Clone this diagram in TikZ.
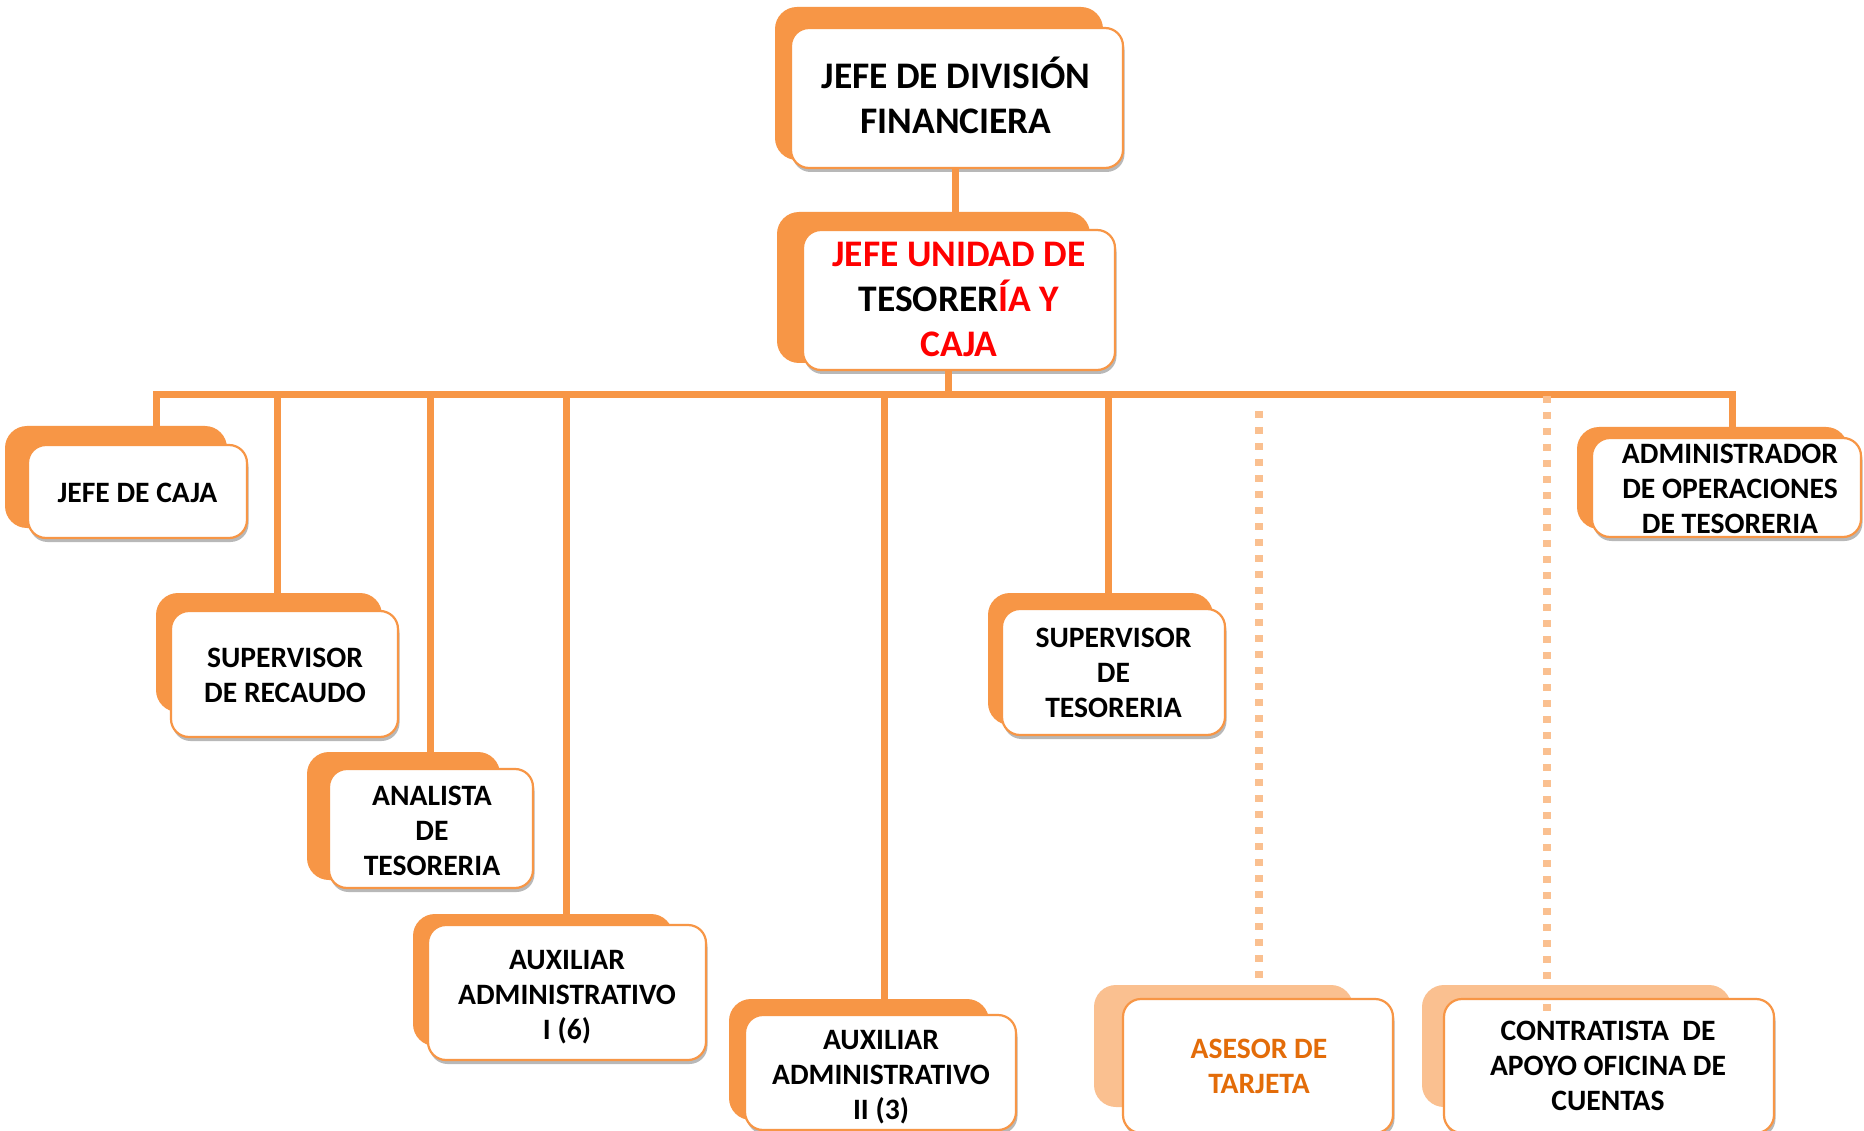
\documentclass[tikz,border=0pt]{standalone}
\usepackage{fontspec}
\setmainfont{Carlito}
\usetikzlibrary{shadows,fit}
\definecolor{org}{HTML}{F79646}
\definecolor{lorg}{HTML}{FAC090}
\definecolor{dorg}{HTML}{E36C09}
\definecolor{redt}{HTML}{FF0000}
\tikzset{
  backbox/.style={fill=org, draw=none, rounded corners=22pt, inner sep=0pt},
  lbackbox/.style={fill=lorg, draw=none, rounded corners=22pt, inner sep=0pt},
  frontbox/.style={fill=white, draw=org, line width=2.2pt, rounded corners=18pt, inner sep=0pt,
    drop shadow={shadow xshift=1.5pt, shadow yshift=-4pt, opacity=0.28, fill=black}},
  conn/.style={draw=org, line width=7pt, line join=miter},
  dotconn/.style={draw=lorg, line width=8pt, dash pattern=on 7pt off 9pt},
  bigtxt/.style={font=\fontsize{37.5}{45}\selectfont\bfseries, align=center, inner sep=0pt},
  smalltxt/.style={font=\fontsize{29.6}{35}\selectfont\bfseries, align=center, inner sep=0pt},
}
\begin{document}
\begin{tikzpicture}[x=1pt,y=-1pt]
\useasboundingbox (0,0) rectangle (1864,1131);
\fill[white] (0,0) rectangle (1864,1131);

% back boxes
\node[backbox, fit={(775,7) (1103,160)}] (divB) {};
\node[backbox, fit={(777,212) (1090,363)}] (uniB) {};
\node[backbox, fit={(5,426) (227,528)}] (cajaB) {};
\node[backbox, fit={(156,593) (382,712)}] (recB) {};
\node[backbox, fit={(307,752) (500,880)}] (anaB) {};
\node[backbox, fit={(413,914) (673,1046)}] (auxaB) {};
\node[backbox, fit={(729,999) (989,1120)}] (auxbB) {};
\node[backbox, fit={(988,593) (1213,725)}] (supB) {};
\node[lbackbox, fit={(1094,985) (1353,1107)}] (aseB) {};
\node[lbackbox, fit={(1422,985) (1731,1107)}] (conB) {};
\node[backbox, fit={(1577,427) (1848,529)}] (admB) {};

% coordinates for connectors
\coordinate (c1) at (955.5,100);
\coordinate (busL) at (156,395);
\coordinate (busR) at (1732,395);
\coordinate (d0) at (948,395);
\coordinate (d2) at (277,395);
\coordinate (d3) at (430,395);
\coordinate (d4) at (566,395);
\coordinate (d5) at (884,395);
\coordinate (d6) at (1108,395);
\coordinate (p1) at (1259,411);
\coordinate (p1e) at (1259,978);
\coordinate (p2) at (1547,396);
\coordinate (p2e) at (1547,1011);

% front boxes
\node[frontbox, fit={(791,28) (1123,168)}] (div) {};
\node[frontbox, fit={(803,230) (1115,370)}] (uni) {};
\node[frontbox, fit={(28,445) (247,538)}] (caja) {};
\node[frontbox, fit={(171,611) (398,737)}] (rec) {};
\node[frontbox, fit={(329,769) (533,888)}] (ana) {};
\node[frontbox, fit={(428,925) (706,1060)}] (auxa) {};
\node[frontbox, fit={(745,1015) (1016,1130)}] (auxb) {};
\node[frontbox, fit={(1002,609) (1225,735)}] (sup) {};
\node[frontbox, fit={(1123,999) (1393,1133)}] (ase) {};
\node[frontbox, fit={(1444,999) (1774,1133)}] (con) {};
\node[frontbox, fit={(1592,438) (1861,537)}] (adm) {};

% connectors
\draw[conn] (c1 |- div.south) -- (c1 |- uniB.north);
\draw[conn] (d0) -- (d0 |- uni.south);
\draw[conn] (busL |- cajaB.north) -- (busL) -- (busR) -- (busR |- admB.north);
\draw[conn] (d2) -- (d2 |- recB.north);
\draw[conn] (d3) -- (d3 |- anaB.north);
\draw[conn] (d4) -- (d4 |- auxaB.north);
\draw[conn] (d5) -- (d5 |- auxbB.north);
\draw[conn] (d6) -- (d6 |- supB.north);
\draw[dotconn] (p1) -- (p1e);
\draw[dotconn] (p2) -- (p2e);

% texts
\node[bigtxt] (divT) at (956,95) {JEFE DE DIVISIÓN\\FINANCIERA};
\node[bigtxt] (uniT) at (959,299.5) {{\color{redt}JEFE UNIDAD DE}\\TESORER{\color{redt}ÍA Y}\\{\color{redt}CAJA}};
\node[smalltxt] (cajaT) at (137.5,493) {JEFE DE CAJA};
\node[smalltxt] (recT) at (285,675.5) {SUPERVISOR\\DE RECAUDO};
\node[smalltxt] (anaT) at (432,831) {ANALISTA\\DE\\TESORERIA};
\node[smalltxt] (auxaT) at (567,997) {AUXILIAR\\ADMINISTRATIVO\\I (6)};
\node[smalltxt] (auxbT) at (881,1077) {AUXILIAR\\ADMINISTRATIVO\\II (3)};
\node[smalltxt] (supT) at (1113.5,672.5) {SUPERVISOR\\DE\\TESORERIA};
\node[smalltxt, text=dorg] (aseT) at (1259,1066.5) {ASESOR DE\\TARJETA};
\node[smalltxt] (conT) at (1608,1066) {CONTRATISTA\ \ DE\\APOYO OFICINA DE\\CUENTAS};
\node[smalltxt] (admT) at (1730,489) {ADMINISTRADOR\\DE OPERACIONES\\DE TESORERIA};
\end{tikzpicture}
\end{document}
